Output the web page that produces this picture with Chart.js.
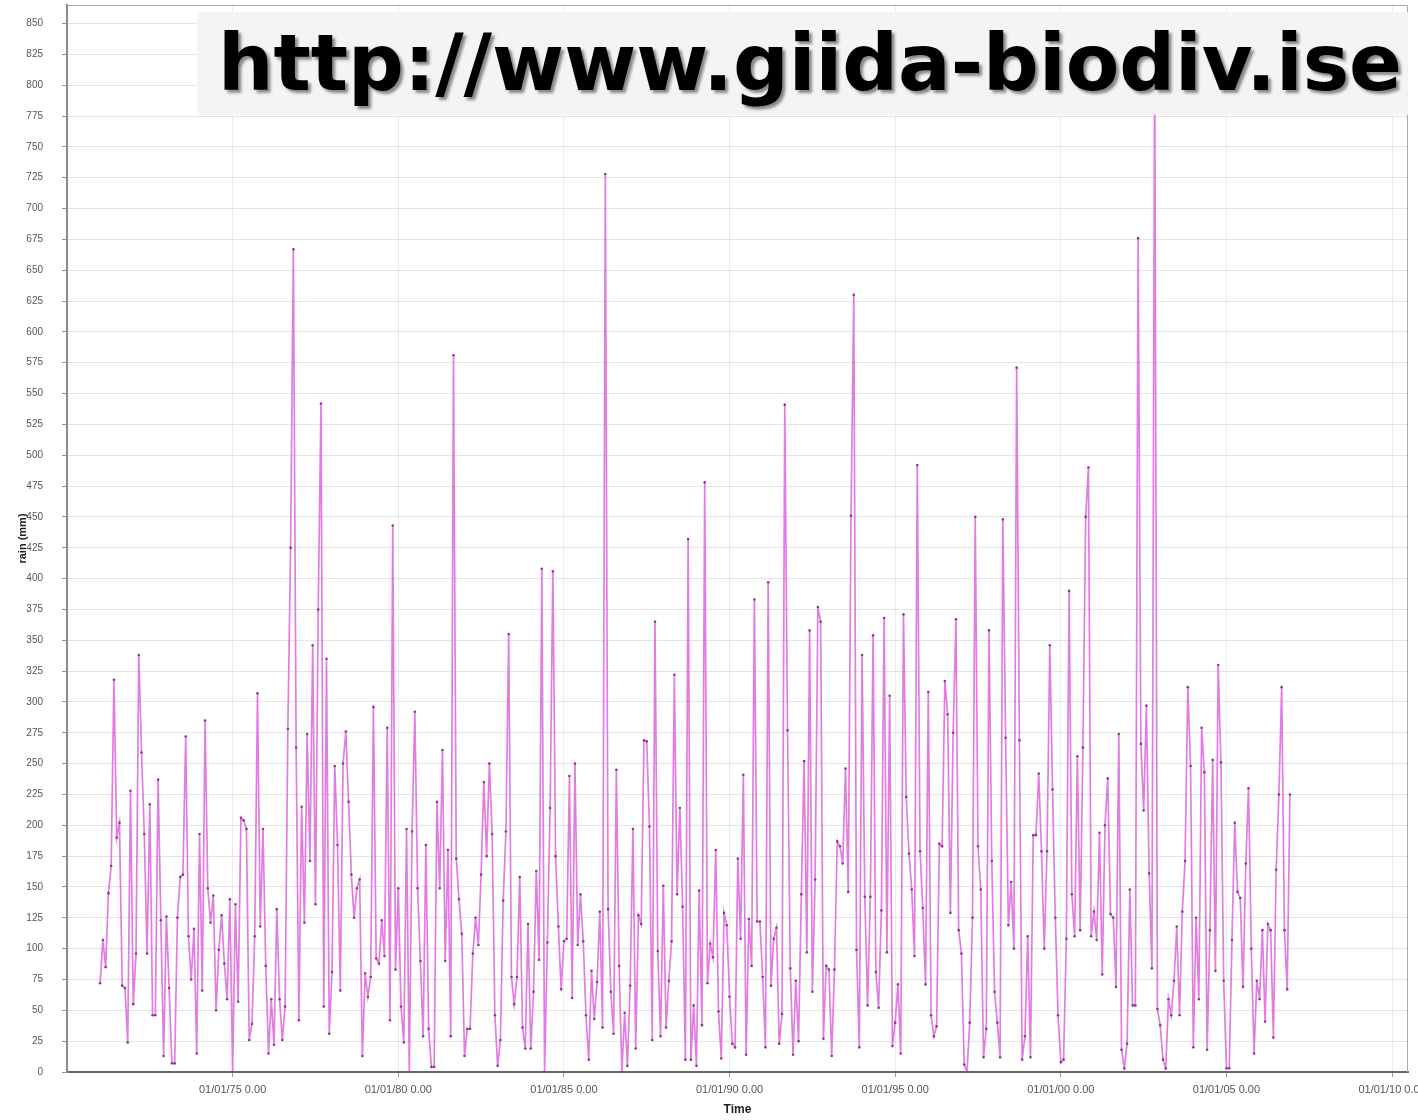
<!DOCTYPE html>
<html>
<head>
<meta charset="utf-8">
<title>rain (mm)</title>
<script src="https://cdn.jsdelivr.net/npm/chart.js@4/dist/chart.umd.min.js"></script>
<style>
  html, body { margin: 0; padding: 0; background: #fff; }
  #wrap { position: relative; width: 1418px; height: 1120px; overflow: hidden; }
  #banner {
    position: absolute; left: 197px; top: 12px; width: 1211px; height: 103px;
    background: rgba(244, 244, 244, 0.97); overflow: hidden; white-space: nowrap;
    font-family: "DejaVu Sans", Verdana, sans-serif; font-weight: bold; font-size: 78px;
    line-height: 103px; color: #000; padding-left: 21px; box-sizing: border-box;
    text-shadow: 3px 3px 3px rgba(0, 0, 0, 0.45);
  }
</style>
</head>
<body>
<div id="wrap">
  <canvas id="chart"></canvas>
  <div id="banner">http://www.giida-biodiv.ise</div>
</div>
<script>
// monthly rain, Jan 1971 .. Dec 2006
const startYear = 1971;
const rain = [
  72, 107, 85, 145, 167, 318, 190, 202, 70, 68,
  24, 228, 55, 96, 338, 259, 193, 96, 217, 46,
  46, 237, 123, 13, 126, 68, 7, 7, 125, 158,
  160, 272, 110, 75, 116, 15, 193, 66, 285, 149,
  121, 143, 50, 99, 127, 88, 59, 140, 0, 136,
  57, 206, 204, 197, 26, 39, 110, 307, 118, 197,
  86, 15, 59, 22, 132, 59, 26, 53, 278, 425,
  667, 263, 42, 215, 121, 274, 171, 346, 136, 375,
  542, 53, 335, 31, 81, 248, 184, 66, 250, 276,
  219, 160, 125, 149, 156, 13, 80, 61, 77, 296,
  92, 88, 123, 94, 279, 42, 443, 83, 149, 53,
  24, 197, 0, 195, 292, 149, 90, 29, 184, 35,
  4, 4, 219, 149, 261, 90, 180, 29, 581, 173,
  140, 112, 13, 35, 35, 96, 125, 103, 160, 235,
  175, 250, 193, 46, 5, 26, 139, 195, 355, 77,
  55, 77, 158, 36, 19, 120, 19, 65, 163, 91,
  408, 0, 105, 214, 406, 175, 118, 67, 106, 108,
  240, 60, 250, 103, 144, 106, 46, 10, 82, 43,
  73, 130, 36, 728, 132, 65, 31, 245, 86, 0,
  48, 5, 70, 197, 19, 127, 120, 269, 268, 199,
  26, 365, 98, 29, 151, 36, 74, 106, 322, 144,
  214, 134, 10, 432, 10, 54, 5, 147, 38, 478,
  72, 104, 93, 180, 49, 11, 129, 119, 61, 23,
  20, 173, 108, 241, 14, 124, 86, 383, 122, 122,
  77, 20, 397, 70, 108, 117, 23, 47, 541, 277,
  84, 14, 74, 25, 144, 252, 97, 358, 65, 156,
  377, 365, 27, 86, 83, 13, 83, 187, 183, 169,
  246, 146, 451, 630, 99, 20, 338, 142, 54, 142,
  354, 81, 52, 131, 368, 97, 305, 21, 40, 71,
  15, 371, 223, 177, 148, 94, 492, 179, 133, 71,
  308, 46, 29, 37, 185, 183, 317, 290, 129, 275,
  367, 115, 96, 6, 0, 40, 125, 450, 183, 148,
  12, 35, 358, 171, 65, 40, 12, 448, 271, 119,
  154, 100, 571, 269, 10, 29, 110, 12, 192, 192,
  242, 179, 100, 179, 346, 229, 125, 46, 8, 10,
  108, 390, 144, 110, 256, 115, 263, 450, 490, 110,
  130, 107, 194, 79, 200, 238, 128, 125, 69, 274,
  18, 3, 23, 148, 54, 54, 676, 266, 212, 297,
  161, 84, 830, 51, 38, 10, 3, 59, 46, 74,
  118, 46, 130, 171, 312, 248, 20, 125, 59, 279,
  243, 18, 115, 253, 82, 330, 251, 74, 3, 3,
  107, 202, 146, 141, 69, 169, 230, 100, 15, 74,
  59, 115, 41, 120, 115, 28, 164, 225, 312, 115,
  67, 225
];
const xTickYears = [1975, 1980, 1985, 1990, 1995, 2000, 2005, 2010];
const yMin = 0, yMax = 865, yStep = 25;

const points = rain.map((v, i) => ({ x: startYear + i / 12, y: v }));

function dateLabel(year) {
  const yy = String(year % 100).padStart(2, "0");
  return "01/01/" + yy + " 0.00";
}

// light frame round the plot area (top and right sides)
const plotFrame = {
  id: "plotFrame",
  afterDraw(chart) {
    const { ctx, chartArea: a } = chart;
    ctx.save();
    ctx.strokeStyle = "#a8a8a8";
    ctx.lineWidth = 1;
    ctx.beginPath();
    ctx.moveTo(a.left, a.top + 0.5);
    ctx.lineTo(a.right - 0.5, a.top + 0.5);
    ctx.lineTo(a.right - 0.5, a.bottom);
    ctx.stroke();
    ctx.restore();
  },
};

const ctx = document.getElementById("chart").getContext("2d");
new Chart(ctx, {
  type: "line",
  data: {
    datasets: [
      {
        label: "rain (mm)",
        data: points,
        borderColor: "rgba(222, 110, 222, 0.9)",
        borderWidth: 1.7,
        pointRadius: 1.3,
        pointBackgroundColor: "#8c3a8c",
        pointBorderWidth: 0,
        tension: 0,
        fill: false,
      },
    ],
  },
  options: {
    responsive: true,
    maintainAspectRatio: false,
    animation: false,
    layout: { padding: { left: 0, right: 10, top: 5, bottom: 0 } },
    plugins: {
      legend: { display: false },
      tooltip: { enabled: false },
    },
    scales: {
      x: {
        type: "linear",
        min: 1970,
        max: 2010.48,
        afterBuildTicks: (scale) => {
          scale.ticks = xTickYears.map((v) => ({ value: v }));
        },
        afterFit: (scale) => {
          scale.paddingLeft = 0;
          scale.paddingRight = 0;
          scale.height = 48;
        },
        ticks: {
          autoSkip: false,
          maxRotation: 0,
          padding: 6,
          color: "#555",
          font: { family: "Liberation Sans, Arial, sans-serif", size: 11 },
          callback: (value) => dateLabel(value),
        },
        grid: { color: "#ebebeb", tickLength: 5, tickColor: "#999" },
        border: { color: "#666", width: 2 },
        title: {
          display: true,
          text: "Time",
          color: "#222",
          font: { family: "Liberation Sans, Arial, sans-serif", size: 12, weight: "bold" },
          padding: { top: 0, bottom: 3 },
        },
      },
      y: {
        min: yMin,
        max: yMax,
        afterFit: (scale) => {
          scale.paddingTop = 0;
          scale.paddingBottom = 0;
          scale.width = 67;
        },
        ticks: {
          stepSize: yStep,
          includeBounds: false,
          autoSkip: false,
          padding: 19,
          color: "#555",
          font: { family: "Liberation Sans, Arial, sans-serif", size: 10 },
        },
        grid: { color: "#e4e4e4", tickLength: 5, tickColor: "#999" },
        border: { color: "#8a8a8a", width: 2 },
        title: {
          display: true,
          text: "rain (mm)",
          color: "#222",
          font: { family: "Liberation Sans, Arial, sans-serif", size: 11, weight: "bold" },
          padding: { top: 16, bottom: 0 },
        },
      },
    },
  },
  plugins: [plotFrame],
});
</script>
</body>
</html>
